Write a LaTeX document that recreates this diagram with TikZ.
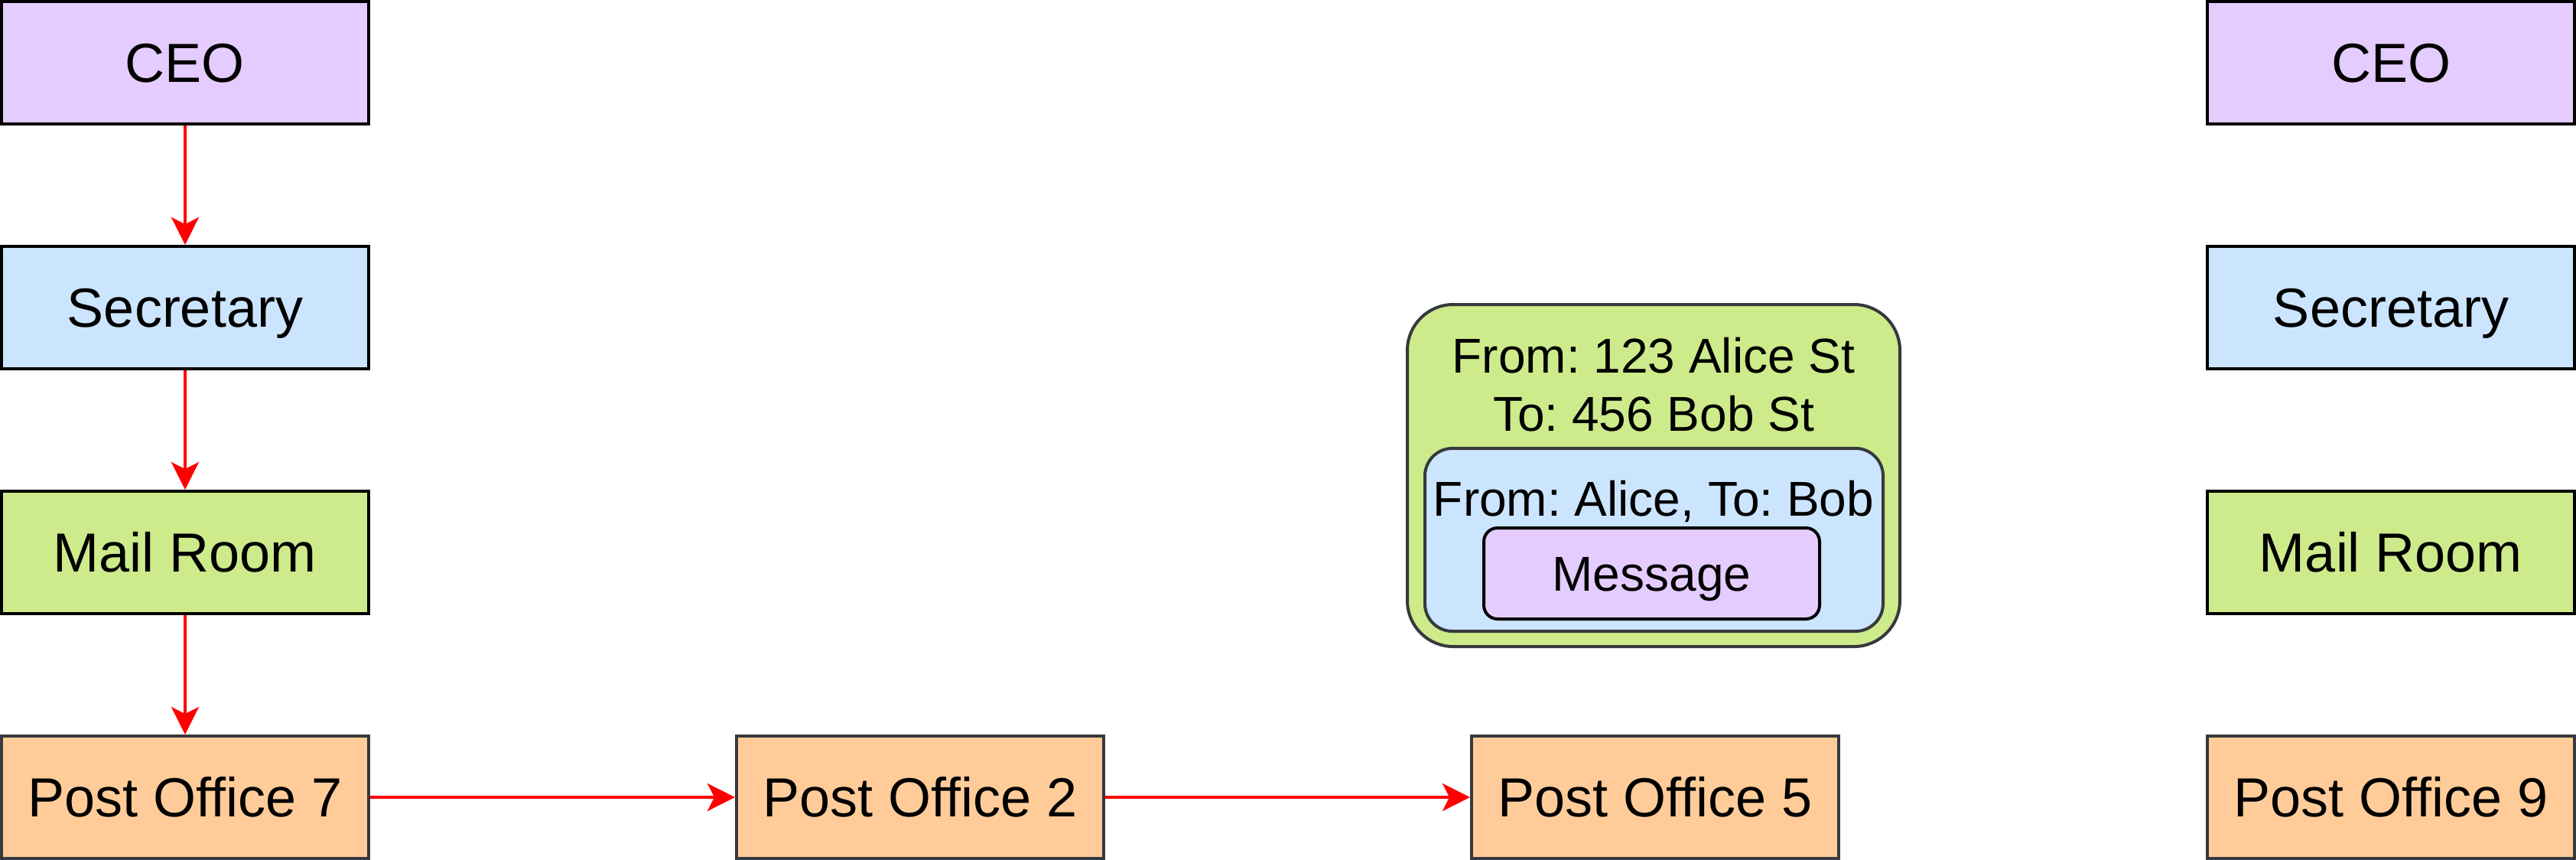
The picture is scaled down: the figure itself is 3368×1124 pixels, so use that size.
\documentclass[tikz,border=0pt]{standalone}
\usepackage{fontspec}
\setmainfont{Liberation Sans}
\usetikzlibrary{arrows.meta}
\definecolor{cpurple}{HTML}{E5CCFF}
\definecolor{cblue}{HTML}{CCE5FF}
\definecolor{cgreen}{HTML}{CDEB8B}
\definecolor{corange}{HTML}{FFCC99}
\definecolor{cdark}{HTML}{36393D}
\definecolor{cred}{HTML}{FF0000}
\frenchspacing
\begin{document}
\begin{tikzpicture}[x=0.5pt,y=-0.5pt,
  box/.style={draw=black, line width=2pt, minimum width=240pt, minimum height=80pt,
    inner sep=0pt, font=\fontsize{36}{43}\selectfont, text height=25.8pt, text depth=0pt},
  pbox/.style={box, fill=cpurple},
  bbox/.style={box, fill=cblue},
  gbox/.style={box, fill=cgreen},
  obox/.style={box, fill=corange, draw=cdark},
  lbl/.style={inner sep=0pt, font=\fontsize{32}{38}\selectfont, anchor=base},
  flow/.style={draw=cred, line width=2pt, -{Stealth[length=18pt, width=18pt, inset=4.5pt]}}
]
\useasboundingbox (0,0) rectangle (3368,1124);

% left column
\node[pbox] (ceo1) at (242,82) {CEO};
\node[bbox] (sec1) at (242,402) {Secretary};
\node[gbox] (mail1) at (242,722) {Mail Room};
\node[obox] (po7) at (242,1042) {Post Office 7};

% bottom row
\node[obox] (po2) at (1203,1042) {Post Office 2};
\node[obox] (po5) at (2164,1042) {Post Office 5};

% right column
\node[pbox] (ceo2) at (3126,82) {CEO};
\node[bbox] (sec2) at (3126,402) {Secretary};
\node[gbox] (mail2) at (3126,722) {Mail Room};
\node[obox] (po9) at (3126,1042) {Post Office 9};

% envelope
\node[draw=cdark, fill=cgreen, line width=2pt, rounded corners=30pt,
  minimum width=322pt, minimum height=223.5pt, inner sep=0pt] (env) at (2162,621.5) {};
\node[draw=cdark, fill=cblue, line width=2pt, rounded corners=18pt,
  minimum width=299.5pt, minimum height=119.5pt, inner sep=0pt] (letter) at (2162.5,705.5) {};
\node[draw=black, fill=cpurple, line width=2pt, rounded corners=9pt,
  minimum width=219.5pt, minimum height=59.5pt, inner sep=0pt,
  font=\fontsize{32}{38}\selectfont, text height=22.9pt, text depth=0pt] (msg) at (2159.5,749.5) {Message};
\node[lbl] (addr1) at (2162,487) {From: 123 Alice St};
\node[lbl] (addr2) at (2162,563) {To: 456 Bob St};
\node[lbl] (names) at (2162,674) {From: Alice, To: Bob};

% connectors
\draw[flow] (ceo1) -- (sec1);
\draw[flow] (sec1) -- (mail1);
\draw[flow] (mail1) -- (po7);
\draw[flow] (po7) -- (po2);
\draw[flow] (po2) -- (po5);
\end{tikzpicture}
\end{document}
